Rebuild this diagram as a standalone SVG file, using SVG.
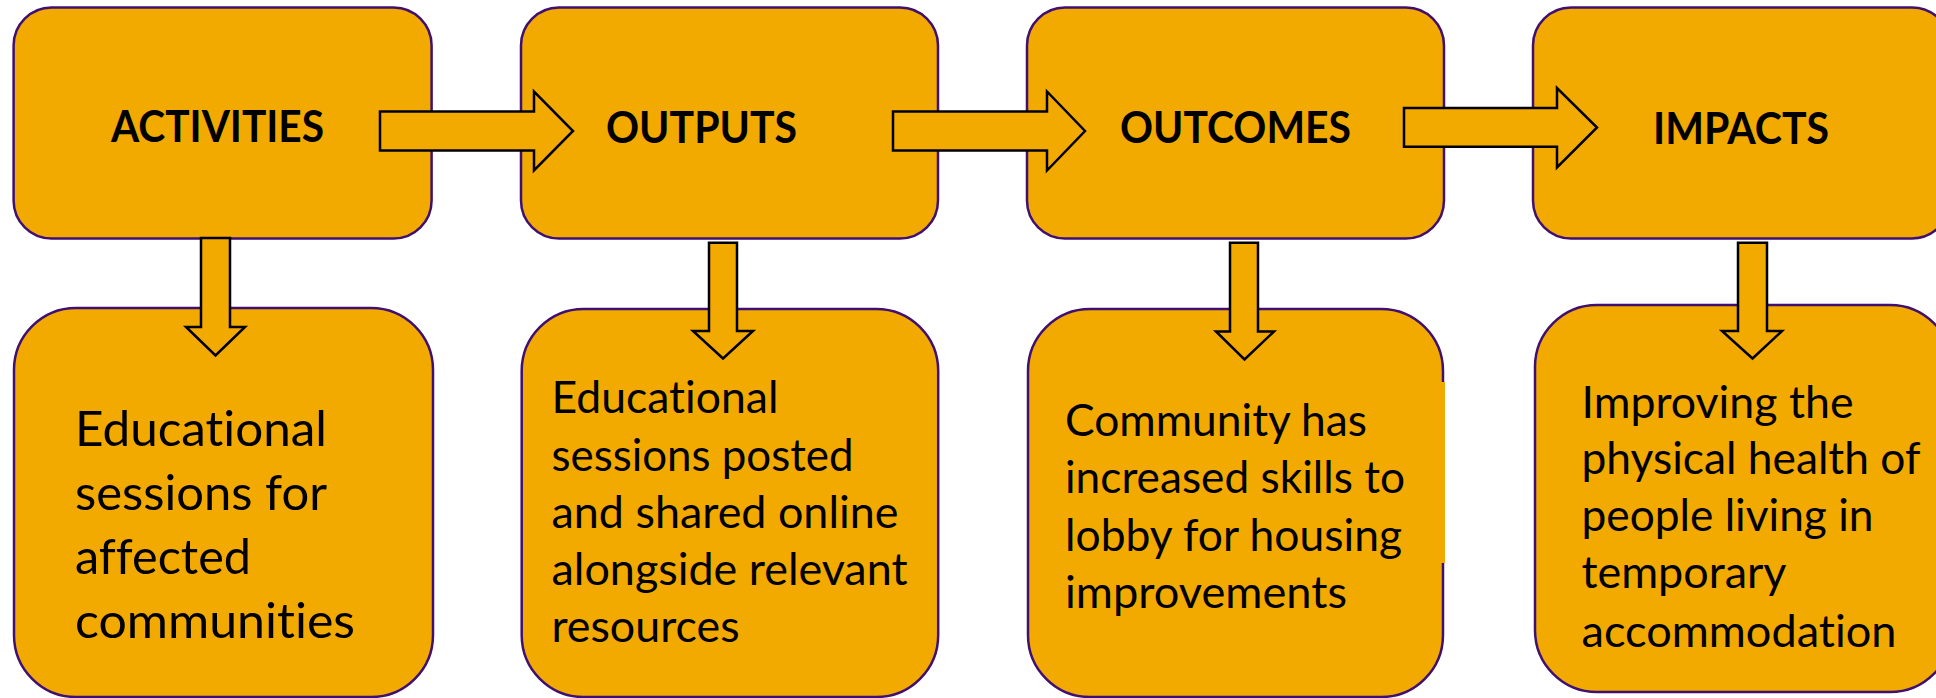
<svg xmlns="http://www.w3.org/2000/svg" width="1936" height="698" viewBox="0 0 1936 698">
<style>
.box{fill:#F2A900;stroke:#3F1071;stroke-width:2.5}
.arrow{fill:#F2A900;stroke:#000;stroke-width:2.5;stroke-linejoin:miter}
text{font-variant-ligatures:none;font-feature-settings:"liga" 0,"clig" 0}
.head{font-family:Lato,"Liberation Sans",sans-serif;font-weight:bold;font-size:43px;fill:#000}
.body{font-family:Lato,"Liberation Sans",sans-serif;font-size:44px;fill:#000}
.big{font-size:49px}
</style>
<rect width="1936" height="698" fill="#fff"/>
<g id="activities"><rect class="box" x="13.6" y="7.4" width="418" height="231" rx="38"/><text class="head" x="111" y="142" textLength="213" lengthAdjust="spacingAndGlyphs">ACTIVITIES</text></g>
<g id="outputs"><rect class="box" x="521" y="7.4" width="417" height="231" rx="38"/><text class="head" x="606" y="143" textLength="191" lengthAdjust="spacingAndGlyphs">OUTPUTS</text></g>
<g id="outcomes"><rect class="box" x="1027" y="7.4" width="417" height="231" rx="38"/><text class="head" x="1120" y="143" textLength="231" lengthAdjust="spacingAndGlyphs">OUTCOMES</text></g>
<g id="impacts"><rect class="box" x="1533" y="7.4" width="417" height="231" rx="38"/><text class="head" x="1653" y="144" textLength="176" lengthAdjust="spacingAndGlyphs">IMPACTS</text></g>
<g id="activities-detail"><rect class="box" x="14" y="308" width="419" height="389" rx="62"/>
<text class="body big"><tspan x="75" y="446" textLength="252" lengthAdjust="spacingAndGlyphs">Educational</tspan><tspan x="75" y="510" textLength="252" lengthAdjust="spacingAndGlyphs">sessions for</tspan><tspan x="75" y="573.5" textLength="176" lengthAdjust="spacingAndGlyphs">affected</tspan><tspan x="75" y="638" textLength="280" lengthAdjust="spacingAndGlyphs">communities</tspan></text></g>
<g id="outputs-detail"><rect class="box" x="521.7" y="309" width="416.5" height="388" rx="62"/>
<text class="body"><tspan x="551.5" y="413" textLength="227" lengthAdjust="spacingAndGlyphs">Educational</tspan><tspan x="551.5" y="470.5" textLength="302" lengthAdjust="spacingAndGlyphs">sessions posted</tspan><tspan x="551.5" y="527.8" textLength="347" lengthAdjust="spacingAndGlyphs">and shared online</tspan><tspan x="551.5" y="585" textLength="356" lengthAdjust="spacingAndGlyphs">alongside relevant</tspan><tspan x="551.5" y="642.3" textLength="188" lengthAdjust="spacingAndGlyphs">resources</tspan></text></g>
<g id="outcomes-detail"><rect class="box" x="1028" y="309" width="415" height="388" rx="62"/><rect x="1440" y="382" width="5" height="181" fill="#F2A900"/>
<text class="body"><tspan x="1065" y="436" textLength="302" lengthAdjust="spacingAndGlyphs">Community has</tspan><tspan x="1065" y="493.3" textLength="340" lengthAdjust="spacingAndGlyphs">increased skills to</tspan><tspan x="1065" y="550.7" textLength="337" lengthAdjust="spacingAndGlyphs">lobby for housing</tspan><tspan x="1065" y="608.3" textLength="282" lengthAdjust="spacingAndGlyphs">improvements</tspan></text></g>
<g id="impacts-detail"><rect class="box" x="1535" y="305" width="417" height="387" rx="62"/>
<text class="body"><tspan x="1581.5" y="417.7" textLength="272" lengthAdjust="spacingAndGlyphs">Improving the</tspan><tspan x="1581.5" y="474" textLength="339" lengthAdjust="spacingAndGlyphs">physical health of</tspan><tspan x="1581.5" y="531" textLength="292" lengthAdjust="spacingAndGlyphs">people living in</tspan><tspan x="1581.5" y="588.3" textLength="205" lengthAdjust="spacingAndGlyphs">temporary</tspan><tspan x="1581.5" y="646.7" textLength="315" lengthAdjust="spacingAndGlyphs">accommodation</tspan></text></g>
<g id="connectors">
<polygon class="arrow" points="380,111.5 534,111.5 534,91.5 573,131 534,170.5 534,150.5 380,150.5"/>
<polygon class="arrow" points="893,111.5 1047,111.5 1047,91.5 1085,131 1047,170.5 1047,150.5 893,150.5"/>
<polygon class="arrow" points="1404,108 1557,108 1557,88 1597,127.5 1557,167.5 1557,146.7 1404,146.7"/>
<polygon class="arrow" points="201,238 230,238 230,327 245,327 215.5,355.5 186,327 201,327"/>
<polygon class="arrow" points="709,242.7 737,242.7 737,331 753,331 723,358.5 693,331 709,331"/>
<polygon class="arrow" points="1230,242.7 1258,242.7 1258,331.5 1274,331.5 1244.5,359.5 1216,331.5 1230,331.5"/>
<polygon class="arrow" points="1738,242.7 1767,242.7 1767,331 1782,331 1752.5,358.5 1722,331 1738,331"/>
</g>
</svg>
